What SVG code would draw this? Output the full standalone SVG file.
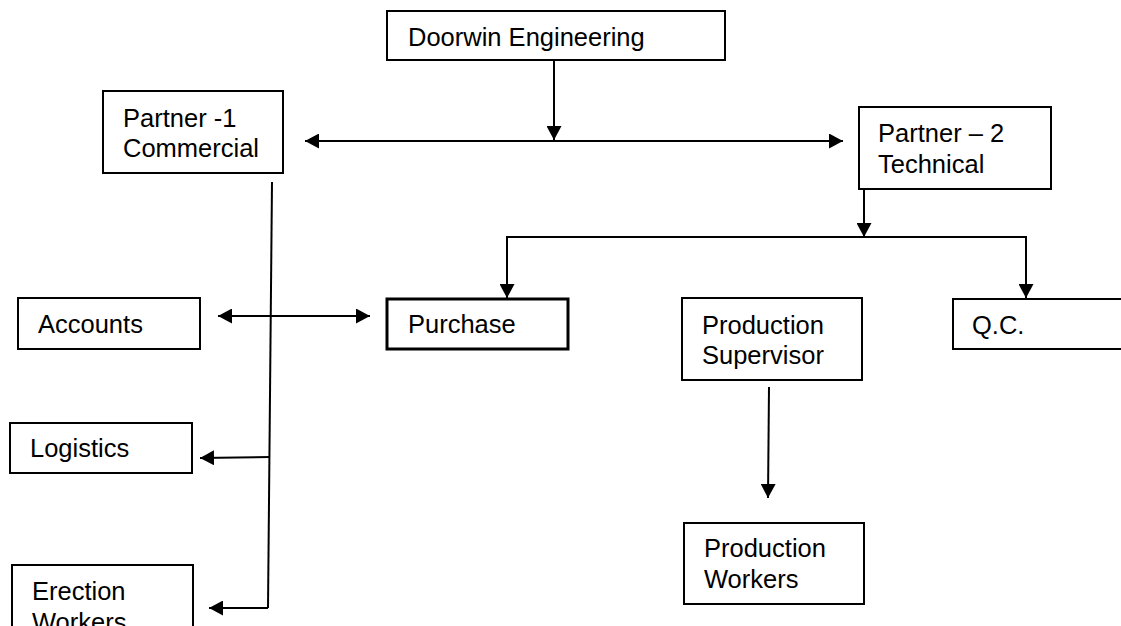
<svg xmlns="http://www.w3.org/2000/svg" width="1121" height="626" viewBox="0 0 1121 626">
  <defs>
    <marker id="ah" markerUnits="userSpaceOnUse" markerWidth="14" markerHeight="15" viewBox="0 0 14 15" refX="14" refY="7.5" orient="auto-start-reverse">
      <path d="M0,0 L14,7.5 L0,15 Z" fill="#000"/>
    </marker>
  </defs>
  <style>
    .box { fill: #fff; stroke: #000; stroke-width: 2; }
    .thick { stroke-width: 3; }
    .lbl { font-family: "Liberation Sans", Arial, sans-serif; font-size: 25.5px; fill: #000; }
    .con { fill: none; stroke: #000; stroke-width: 2; }
  </style>
  <rect width="1121" height="626" fill="#fff"/>

  <g id="connectors">
    <path class="con" d="M554,60 L554,140" marker-end="url(#ah)"/>
    <path class="con" d="M305,141 L843,141" marker-start="url(#ah)" marker-end="url(#ah)"/>
    <path class="con" d="M864,189 L864,237" marker-end="url(#ah)"/>
    <path class="con" d="M507,298 L507,237 L1026,237 L1026,298" marker-start="url(#ah)" marker-end="url(#ah)"/>
    <path class="con" d="M272,182 L268,608"/>
    <path class="con" d="M218,316 L370,316" marker-start="url(#ah)" marker-end="url(#ah)"/>
    <path class="con" d="M270,457 L200,458" marker-end="url(#ah)"/>
    <path class="con" d="M268,608 L209,608" marker-end="url(#ah)"/>
    <path class="con" d="M769,387 L768,498" marker-end="url(#ah)"/>
  </g>

  <g id="doorwin">
    <rect class="box" x="387" y="11" width="338" height="49"/>
    <text class="lbl" x="408" y="46">Doorwin Engineering</text>
  </g>
  <g id="partner1">
    <rect class="box" x="103" y="91" width="180" height="82"/>
    <text class="lbl" x="123" y="127">Partner -1</text>
    <text class="lbl" x="123" y="157">Commercial</text>
  </g>
  <g id="partner2">
    <rect class="box" x="859" y="107" width="192" height="82"/>
    <text class="lbl" x="878" y="142">Partner – 2</text>
    <text class="lbl" x="878" y="173">Technical</text>
  </g>
  <g id="accounts">
    <rect class="box" x="18" y="298" width="182" height="51"/>
    <text class="lbl" x="38" y="333">Accounts</text>
  </g>
  <g id="purchase">
    <rect class="box thick" x="387" y="299" width="181" height="50"/>
    <text class="lbl" x="408" y="333">Purchase</text>
  </g>
  <g id="production-supervisor">
    <rect class="box" x="682" y="298" width="180" height="82"/>
    <text class="lbl" x="702" y="334">Production</text>
    <text class="lbl" x="702" y="364">Supervisor</text>
  </g>
  <g id="qc">
    <rect class="box" x="953" y="299" width="220" height="50"/>
    <text class="lbl" x="972" y="334">Q.C.</text>
  </g>
  <g id="logistics">
    <rect class="box" x="10" y="423" width="182" height="50"/>
    <text class="lbl" x="30" y="457">Logistics</text>
  </g>
  <g id="production-workers">
    <rect class="box" x="684" y="523" width="180" height="81"/>
    <text class="lbl" x="704" y="557">Production</text>
    <text class="lbl" x="704" y="588">Workers</text>
  </g>
  <g id="erection-workers">
    <rect class="box" x="12" y="565" width="181" height="90"/>
    <text class="lbl" x="32" y="600">Erection</text>
    <text class="lbl" x="32" y="631">Workers</text>
  </g>
</svg>
